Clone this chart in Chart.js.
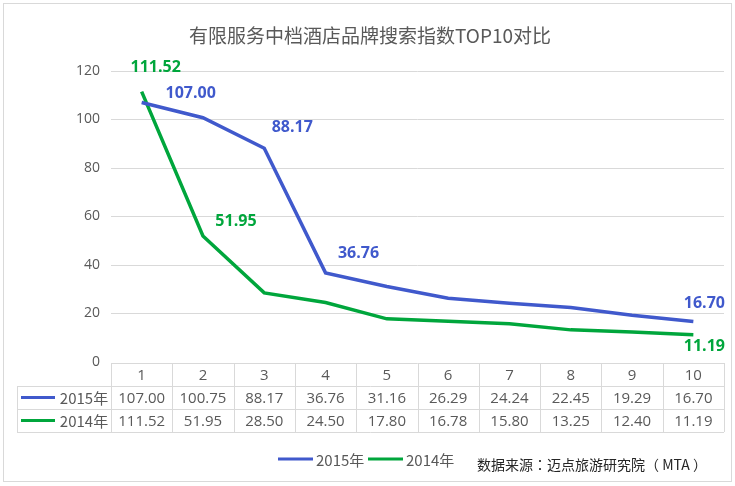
<!DOCTYPE html>
<html>
<head>
<meta charset="utf-8">
<script src="https://cdn.jsdelivr.net/npm/chart.js@4"></script>
<style>
  html, body { margin: 0; padding: 0; background: #fff; }
  #wrap { width: 735px; height: 486px; }
</style>
</head>
<body>
<div id="wrap"><canvas id="hotelChart" width="735" height="486"></canvas></div>
<script>
var ranks = ["1", "2", "3", "4", "5", "6", "7", "8", "9", "10"];
var values2015 = [107.00, 100.75, 88.17, 36.76, 31.16, 26.29, 24.24, 22.45, 19.29, 16.70];
var values2014 = [111.52, 51.95, 28.50, 24.50, 17.80, 16.78, 15.80, 13.25, 12.40, 11.19];
var seriesNames = ["2015年", "2014年"];
var yTicks = [0, 20, 40, 60, 80, 100, 120];

var blue = "#4059CC";
var green = "#00A63C";
var gridColor = "#D9D9D9";
var textColor = "#595959";
var cjk = "'Noto Sans CJK SC', 'Noto Sans', sans-serif";

// which points get a value label, and where it sits relative to the point
var pointLabels = [
    [{ i: 0, dx: 49, dy: -9 }, { i: 2, dx: 28, dy: -21 }, { i: 3, dx: 33, dy: -19 }, { i: 9, dx: 11, dy: -18 }],
    [{ i: 0, dx: 14, dy: -24 }, { i: 1, dx: 33, dy: -15 }, { i: 9, dx: 11, dy: 12 }]
];

var tableTop = 363;
var rowH = 23;

var extras = {
    id: 'extras',
    beforeDraw: function(chart) {
        var ctx = chart.ctx;
        ctx.save();
        ctx.fillStyle = "#fff";
        ctx.fillRect(0, 0, chart.width, chart.height);
        ctx.strokeStyle = gridColor;
        ctx.lineWidth = 1;
        ctx.strokeRect(3.5, 3.5, 728, 478);

        // title
        ctx.fillStyle = textColor;
        ctx.font = "19px " + cjk;
        ctx.textAlign = "center";
        ctx.textBaseline = "middle";
        ctx.fillText("有限服务中档酒店品牌搜索指数TOP10对比", 370, 36);
        ctx.restore();
    },
    afterDatasetsDraw: function(chart) {
        var ctx = chart.ctx;
        var area = chart.chartArea;
        var x = chart.scales.x;
        var colW = (area.right - area.left) / ranks.length;
        var colors = [blue, green];
        var rows = [values2015, values2014];
        ctx.save();

        // value labels on the lines
        ctx.font = "bold 16px 'Open Sans', sans-serif";
        ctx.textAlign = "center";
        ctx.textBaseline = "middle";
        pointLabels.forEach(function(list, d) {
            var meta = chart.getDatasetMeta(d);
            ctx.fillStyle = colors[d];
            list.forEach(function(p) {
                var pt = meta.data[p.i];
                ctx.fillText(rows[d][p.i].toFixed(2), pt.x + p.dx, pt.y + p.dy);
            });
        });

        // data table
        var left = 17;
        var bottom = tableTop + rowH * 3;
        ctx.strokeStyle = gridColor;
        ctx.lineWidth = 1;
        ctx.beginPath();
        ctx.moveTo(area.left, tableTop + 0.5);
        ctx.lineTo(area.right, tableTop + 0.5);
        for (var r = 1; r <= 3; r++) {
            ctx.moveTo(left, tableTop + rowH * r + 0.5);
            ctx.lineTo(area.right, tableTop + rowH * r + 0.5);
        }
        ctx.moveTo(left + 0.5, tableTop + rowH);
        ctx.lineTo(left + 0.5, bottom);
        for (var c = 0; c <= ranks.length; c++) {
            var vx = Math.round(area.left + colW * c) + 0.5;
            ctx.moveTo(vx, tableTop);
            ctx.lineTo(vx, bottom);
        }
        ctx.stroke();

        ctx.font = "15px 'Open Sans', sans-serif";
        ctx.fillStyle = textColor;
        ctx.textAlign = "center";
        ranks.forEach(function(lbl, i) {
            var cx = x.getPixelForValue(i);
            ctx.fillText(lbl, cx, tableTop + rowH / 2 + 1);
            ctx.fillText(values2015[i].toFixed(2), cx, tableTop + rowH * 1.5 + 1);
            ctx.fillText(values2014[i].toFixed(2), cx, tableTop + rowH * 2.5 + 1);
        });

        ctx.lineWidth = 3;
        seriesNames.forEach(function(name, d) {
            var cy = tableTop + rowH * (d + 1.5);
            ctx.strokeStyle = colors[d];
            ctx.beginPath();
            ctx.moveTo(21, cy);
            ctx.lineTo(55, cy);
            ctx.stroke();
            ctx.fillStyle = textColor;
            ctx.font = "15px " + cjk;
            ctx.textAlign = "center";
            ctx.fillText(name, 84, cy + 1);
        });

        // legend below
        var lx = [278, 368];
        seriesNames.forEach(function(name, d) {
            ctx.strokeStyle = colors[d];
            ctx.beginPath();
            ctx.moveTo(lx[d], 459);
            ctx.lineTo(lx[d] + 35, 459);
            ctx.stroke();
            ctx.fillStyle = textColor;
            ctx.textAlign = "left";
            ctx.font = "15px " + cjk;
            ctx.fillText(name, lx[d] + 38, 460);
        });

        ctx.fillStyle = "#262626";
        ctx.font = "14px 'Noto Sans CJK TC', 'Noto Sans CJK SC', sans-serif";
        ctx.textAlign = "left";
        ctx.fillText("数据来源：迈点旅游研究院（ MTA ）", 477, 465);
        ctx.restore();
    }
};

var ctx = document.getElementById("hotelChart").getContext("2d");

new Chart(ctx, {
    type: 'line',
    data: {
        labels: ranks,
        datasets: [{
            label: seriesNames[0],
            data: values2015,
            borderColor: blue,
            backgroundColor: blue,
            borderWidth: 3.5,
            pointRadius: 0,
            tension: 0,
            fill: false
        }, {
            label: seriesNames[1],
            data: values2014,
            borderColor: green,
            backgroundColor: green,
            borderWidth: 3.5,
            pointRadius: 0,
            tension: 0,
            fill: false
        }]
    },
    options: {
        responsive: false,
        animation: false,
        layout: {
            padding: { left: 0, right: 11, top: 71, bottom: 124 }
        },
        plugins: {
            legend: { display: false },
            title: { display: false },
            tooltip: { enabled: false }
        },
        scales: {
            x: {
                display: false,
                offset: true
            },
            y: {
                min: 0,
                max: 120,
                afterBuildTicks: function(scale) {
                    scale.ticks = yTicks.map(function(v) { return { value: v }; });
                },
                afterFit: function(scale) {
                    scale.width = 111;
                },
                border: { display: false },
                grid: {
                    color: function(c) { return c.tick.value === 0 ? 'rgba(0,0,0,0)' : gridColor; },
                    drawTicks: false
                },
                ticks: {
                    padding: 11,
                    color: textColor,
                    font: { family: "'Open Sans', sans-serif", size: 14 }
                }
            }
        }
    },
    plugins: [extras]
});
</script>
</body>
</html>
